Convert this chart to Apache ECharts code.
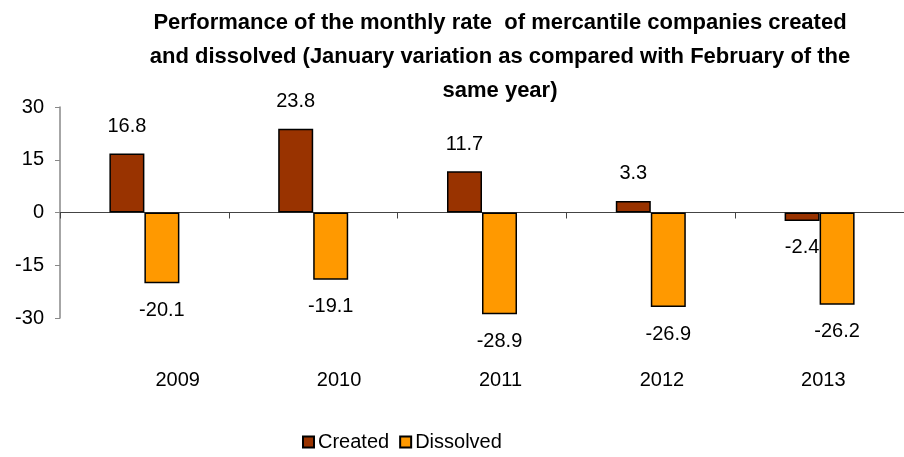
<!DOCTYPE html>
<html>
<head>
<meta charset="utf-8">
<script src="https://cdn.jsdelivr.net/npm/echarts@6/dist/echarts.min.js"></script>
<style>
  html, body { margin: 0; padding: 0; background: #fff; }
  #chart { width: 904px; height: 457px; }
</style>
</head>
<body>
<div id="chart"></div>
<script>
// years on the category axis
var years = ['2009', '2010', '2011', '2012', '2013'];
// monthly rate variation (%)
var created = [16.8, 23.8, 11.7, 3.3, -2.4];
var dissolved = [-20.1, -19.1, -28.9, -26.9, -26.2];
var yTicks = [-30, -15, 0, 15, 30];

var fnt = '"Liberation Sans", Arial, sans-serif';

// label above for positive values, below for negative ones
function withLabels(arr) {
    return arr.map(function (v) {
        return { value: v, label: { position: v >= 0 ? 'top' : 'bottom' } };
    });
}

var chart = echarts.init(document.getElementById('chart'));
chart.setOption({
    backgroundColor: '#fff',
    animation: false,
    title: {
        text: 'Performance of the monthly rate  of mercantile companies created\nand dissolved (January variation as compared with February of the\nsame year)',
        left: 495,
        top: 1,
        textAlign: 'center',
        textStyle: { fontFamily: fnt, fontWeight: 'bold', fontSize: 22, lineHeight: 34, color: '#000' }
    },
    legend: {
        bottom: 0,
        left: 297,
        itemWidth: 11,
        itemHeight: 11,
        itemGap: 10,
        icon: 'rect',
        textStyle: { fontFamily: fnt, fontSize: 20, color: '#000', padding: [0, 0, 0, -1] },
        data: ['Created', 'Dissolved']
    },
    grid: [
        { left: 60, top: 107, width: 855, height: 211 },
        { left: 97, top: 107, width: 815, height: 211 }
    ],
    xAxis: [
        {
            type: 'category',
            data: years,
            gridIndex: 0,
            axisLine: { onZero: true, lineStyle: { color: '#444', width: 1 } },
            axisTick: { show: true, length: 6, lineStyle: { color: '#444' } },
            axisLabel: { show: false }
        },
        {
            type: 'category',
            data: years,
            gridIndex: 1,
            axisLine: { show: false },
            axisTick: { show: false },
            axisLabel: { margin: 52, fontFamily: fnt, fontSize: 20, color: '#000' }
        }
    ],
    yAxis: [
        {
            type: 'value',
            gridIndex: 0,
            min: yTicks[0],
            max: yTicks[yTicks.length - 1],
            interval: 15,
            splitLine: { show: false },
            axisLine: { show: true, lineStyle: { color: '#888', width: 1.5 } },
            axisTick: { show: true, length: 5, lineStyle: { color: '#888' } },
            axisLabel: { margin: 16, fontFamily: fnt, fontSize: 20, color: '#000' }
        },
        {
            type: 'value',
            gridIndex: 1,
            min: -30, max: 30,
            show: false
        }
    ],
    series: [
        {
            name: 'Created',
            type: 'bar',
            data: withLabels(created),
            barWidth: 35,
            barGap: '0%',
            itemStyle: { color: '#993300', borderColor: '#000', borderWidth: 1.5 },
            label: { show: true, distance: 17, fontFamily: fnt, fontSize: 20, color: '#000' }
        },
        {
            name: 'Dissolved',
            type: 'bar',
            data: withLabels(dissolved),
            barWidth: 35,
            barGap: '0%',
            itemStyle: { color: '#FF9900', borderColor: '#000', borderWidth: 1.5 },
            label: { show: true, distance: 17, fontFamily: fnt, fontSize: 20, color: '#000' }
        }
    ]
});
</script>
</body>
</html>
